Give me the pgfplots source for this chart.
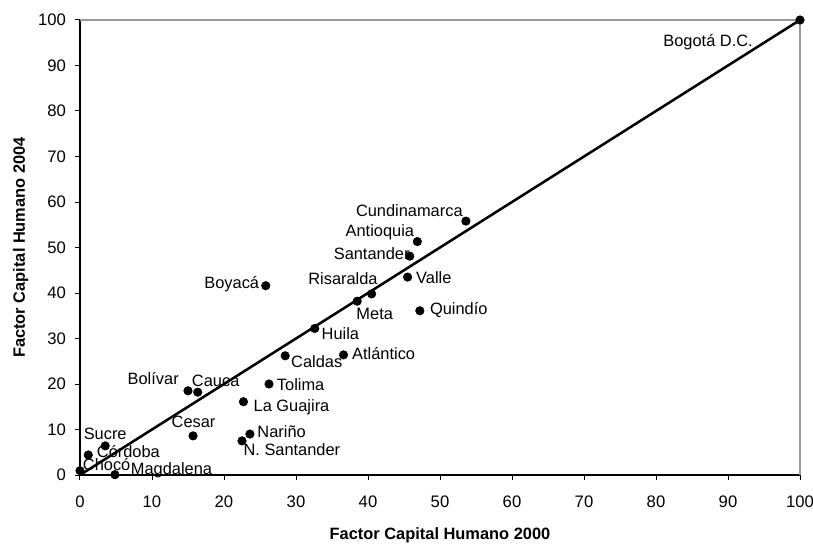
\documentclass[border=0pt]{standalone}
\usepackage{fontspec}
\setmainfont{Liberation Sans}
\usepackage{pgfplots}
\pgfplotsset{compat=1.18}

\begin{document}
\begin{tikzpicture}
\useasboundingbox (-60pt,-51pt) rectangle (549.75pt,356.25pt);
\begin{axis}[
  at={(0,0)}, anchor=south west,
  scale only axis, width=540pt, height=341.25pt,
  xmin=0, xmax=100, ymin=0, ymax=100,
  xtick={0,10,...,100}, ytick={0,10,...,100},
  axis x line*=bottom, axis y line*=left,
  axis line style={black, line width=0.9pt},
  tick align=outside, major tick length=4pt,
  tick style={black, line width=0.75pt},
  /pgf/number format/assume math mode=true,
  tick label style={font=\fontsize{12.5}{14}\selectfont},
  xticklabel style={yshift=-8pt},
  yticklabel style={xshift=-3pt},
  xlabel={\bfseries Factor Capital Humano 2000},
  ylabel={\bfseries Factor Capital Humano 2004},
  xlabel style={at={(axis description cs:0.5,-0.1407)}, anchor=base, font=\fontsize{12.3}{14}\selectfont},
  ylabel style={at={(axis description cs:-0.0764,0.5)}, anchor=base, font=\fontsize{12.3}{14}\selectfont},
  clip=false,
]
\addplot[black, line width=1.9pt, no marks] coordinates {(0,0) (100,100)};
\addplot[only marks, mark=*, mark size=3.2pt, black,
  nodes near coords, point meta=explicit symbolic,
  visualization depends on={value \thisrow{anch}\as\myanch},
  visualization depends on={\thisrow{dx}\as\mydx},
  visualization depends on={\thisrow{dy}\as\mydy},
  every node near coord/.append style={anchor=\myanch, xshift=\mydx*0.75pt, yshift=\mydy*0.75pt,
    inner sep=0pt, text height=0.72em, text depth=0pt, font=\fontsize{12.3}{14}\selectfont, black}]
  table[col sep=comma, x=x, y=y, meta=label]{
x,y,label,anch,dx,dy
100,100,Bogotá D.C.,east,-47,-21.7
53.6,55.8,Cundinamarca,east,-3,9.3
46.85,51.3,Antioquia,east,-3,9.7
45.8,48.1,Santander,east,0,1
45.5,43.5,Valle,west,8.3,-2
40.5,39.8,Risaralda,east,6.3,14.7
38.5,38.2,Meta,west,-1,-14
47.2,36.1,Quindío,west,10,0.7
32.6,32.2,Huila,west,6.7,-6.7
28.5,26.2,Caldas,west,5.7,-7.3
36.6,26.4,Atlántico,west,8.4,-0.3
25.8,41.6,Boyacá,east,-6.4,1.7
26.25,20.0,Tolima,west,7.7,-1.7
15.0,18.5,Bolívar,east,-9,10.7
16.35,18.2,Cauca,west,-6,10.6
22.7,16.1,La Guajira,west,10,-5
15.7,8.6,Cesar,center,0.5,13.3
23.6,9.0,Nariño,west,7.3,1.3
22.5,7.5,N. Santander,west,1.3,-10
3.5,6.4,Sucre,center,0,10.7
1.15,4.4,Córdoba,west,8.4,2.2
0,0.95,Chocó,west,2.7,5.2
4.85,0.07,Magdalena,west,15.7,5.4
};
\draw[gray!80, line width=0.9pt] (rel axis cs:0,1) -- (rel axis cs:1,1) -- (rel axis cs:1,0);
\end{axis}
\end{tikzpicture}
\end{document}
